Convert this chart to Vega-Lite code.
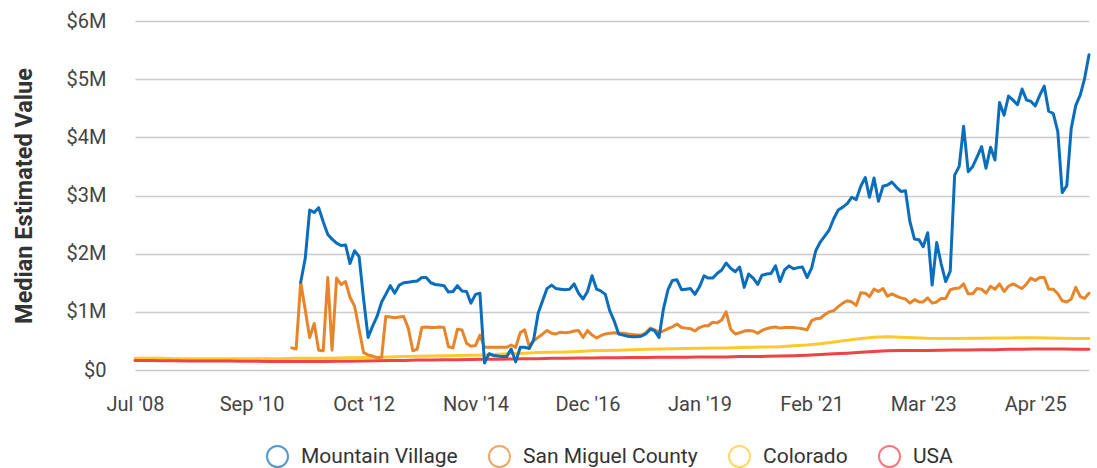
{
"$schema":"https://vega.github.io/schema/vega-lite/v6.json",
"width":954,"height":349,
"autosize":{"type":"none"},
"padding":{"left":135,"top":21,"right":8,"bottom":98},
"background":"white",
"config":{"view":{"stroke":null},"font":"Roboto"},
"data":{"values":[
{"d":"2008-07","CO":0.20,"US":0.165},
{"d":"2008-10","CO":0.20,"US":0.165},
{"d":"2009-01","CO":0.20,"US":0.16},
{"d":"2009-04","CO":0.195,"US":0.16},
{"d":"2009-07","CO":0.195,"US":0.155},
{"d":"2009-10","CO":0.195,"US":0.155},
{"d":"2010-01","CO":0.195,"US":0.155},
{"d":"2010-04","CO":0.195,"US":0.155},
{"d":"2010-07","CO":0.195,"US":0.15},
{"d":"2010-10","CO":0.195,"US":0.15},
{"d":"2011-01","CO":0.195,"US":0.145},
{"d":"2011-04","CO":0.195,"US":0.145},
{"d":"2011-06","SMC":0.38},
{"d":"2011-07","SMC":0.36,"CO":0.20,"US":0.145},
{"d":"2011-08","MV":1.51,"SMC":1.51},
{"d":"2011-09","MV":1.92,"SMC":1.03},
{"d":"2011-10","MV":2.75,"SMC":0.56,"CO":0.20,"US":0.145},
{"d":"2011-11","MV":2.71,"SMC":0.80},
{"d":"2011-12","MV":2.79,"SMC":0.34},
{"d":"2012-01","MV":2.55,"SMC":0.33,"CO":0.20,"US":0.145},
{"d":"2012-02","MV":2.33,"SMC":1.59},
{"d":"2012-03","MV":2.25,"SMC":0.34},
{"d":"2012-04","MV":2.18,"SMC":1.58,"CO":0.205,"US":0.15},
{"d":"2012-05","MV":2.14,"SMC":1.47},
{"d":"2012-06","MV":2.15,"SMC":1.52},
{"d":"2012-07","MV":1.83,"SMC":1.25,"CO":0.21,"US":0.15},
{"d":"2012-08","MV":2.05,"SMC":1.10},
{"d":"2012-09","MV":1.95,"SMC":0.70},
{"d":"2012-10","MV":1.23,"SMC":0.30,"CO":0.215,"US":0.155},
{"d":"2012-11","MV":0.56,"SMC":0.26},
{"d":"2012-12","MV":0.75,"SMC":0.24},
{"d":"2013-01","MV":0.92,"SMC":0.21,"CO":0.22,"US":0.16},
{"d":"2013-02","MV":1.17,"SMC":0.22},
{"d":"2013-03","MV":1.30,"SMC":0.92},
{"d":"2013-04","MV":1.45,"SMC":0.91,"CO":0.225,"US":0.165},
{"d":"2013-05","MV":1.32,"SMC":0.90},
{"d":"2013-06","MV":1.46,"SMC":0.91},
{"d":"2013-07","MV":1.50,"SMC":0.92,"CO":0.23,"US":0.165},
{"d":"2013-08","MV":1.51,"SMC":0.72},
{"d":"2013-09","MV":1.52,"SMC":0.33},
{"d":"2013-10","MV":1.53,"SMC":0.36,"CO":0.235,"US":0.17},
{"d":"2013-11","MV":1.59,"SMC":0.73},
{"d":"2013-12","MV":1.59,"SMC":0.74},
{"d":"2014-01","MV":1.50,"SMC":0.73,"CO":0.24,"US":0.17},
{"d":"2014-02","MV":1.47,"SMC":0.73},
{"d":"2014-03","MV":1.46,"SMC":0.74},
{"d":"2014-04","MV":1.45,"SMC":0.73,"CO":0.245,"US":0.175},
{"d":"2014-05","MV":1.34,"SMC":0.40},
{"d":"2014-06","MV":1.35,"SMC":0.38},
{"d":"2014-07","MV":1.45,"SMC":0.70,"CO":0.25,"US":0.175},
{"d":"2014-08","MV":1.36,"SMC":0.69},
{"d":"2014-09","MV":1.35,"SMC":0.46},
{"d":"2014-10","MV":1.15,"SMC":0.41,"CO":0.255,"US":0.18},
{"d":"2014-11","MV":1.30,"SMC":0.42},
{"d":"2014-12","MV":1.32,"SMC":0.60},
{"d":"2015-01","MV":0.12,"SMC":0.39,"CO":0.26,"US":0.185},
{"d":"2015-02","MV":0.28,"SMC":0.39},
{"d":"2015-03","MV":0.25,"SMC":0.39},
{"d":"2015-04","MV":0.24,"SMC":0.39,"CO":0.27,"US":0.185},
{"d":"2015-05","MV":0.23,"SMC":0.39},
{"d":"2015-06","MV":0.23,"SMC":0.39},
{"d":"2015-07","MV":0.36,"SMC":0.43,"CO":0.28,"US":0.19},
{"d":"2015-08","MV":0.14,"SMC":0.39},
{"d":"2015-09","MV":0.39,"SMC":0.64},
{"d":"2015-10","MV":0.39,"SMC":0.69,"CO":0.29,"US":0.195},
{"d":"2015-11","MV":0.37,"SMC":0.40},
{"d":"2015-12","MV":0.52,"SMC":0.50},
{"d":"2016-01","MV":0.98,"SMC":0.56,"CO":0.30,"US":0.195},
{"d":"2016-02","MV":1.20,"SMC":0.62},
{"d":"2016-03","MV":1.40,"SMC":0.68},
{"d":"2016-04","MV":1.46,"SMC":0.63,"CO":0.305,"US":0.20},
{"d":"2016-05","MV":1.40,"SMC":0.62},
{"d":"2016-06","MV":1.39,"SMC":0.65},
{"d":"2016-07","MV":1.38,"SMC":0.64,"CO":0.31,"US":0.20},
{"d":"2016-08","MV":1.39,"SMC":0.65},
{"d":"2016-09","MV":1.48,"SMC":0.67},
{"d":"2016-10","MV":1.32,"SMC":0.68,"CO":0.32,"US":0.205},
{"d":"2016-11","MV":1.22,"SMC":0.56},
{"d":"2016-12","MV":1.35,"SMC":0.68},
{"d":"2017-01","MV":1.62,"SMC":0.60,"CO":0.33,"US":0.205},
{"d":"2017-02","MV":1.39,"SMC":0.55},
{"d":"2017-03","MV":1.36,"SMC":0.59},
{"d":"2017-04","MV":1.30,"SMC":0.62,"CO":0.335,"US":0.21},
{"d":"2017-05","MV":1.02,"SMC":0.63},
{"d":"2017-06","MV":0.84,"SMC":0.64},
{"d":"2017-07","MV":0.62,"SMC":0.63,"CO":0.34,"US":0.21},
{"d":"2017-08","MV":0.60,"SMC":0.63},
{"d":"2017-09","MV":0.58,"SMC":0.62},
{"d":"2017-10","MV":0.57,"SMC":0.61,"CO":0.35,"US":0.215},
{"d":"2017-11","MV":0.57,"SMC":0.60},
{"d":"2017-12","MV":0.58,"SMC":0.60},
{"d":"2018-01","MV":0.62,"SMC":0.64,"CO":0.355,"US":0.215},
{"d":"2018-02","MV":0.70,"SMC":0.72},
{"d":"2018-03","MV":0.68,"SMC":0.69},
{"d":"2018-04","MV":0.56,"SMC":0.65,"CO":0.36,"US":0.22},
{"d":"2018-05","MV":1.05,"SMC":0.67},
{"d":"2018-06","MV":1.38,"SMC":0.71},
{"d":"2018-07","MV":1.54,"SMC":0.74,"CO":0.365,"US":0.22},
{"d":"2018-08","MV":1.55,"SMC":0.79},
{"d":"2018-09","MV":1.38,"SMC":0.73},
{"d":"2018-10","MV":1.39,"SMC":0.72,"CO":0.37,"US":0.22},
{"d":"2018-11","MV":1.40,"SMC":0.71},
{"d":"2018-12","MV":1.30,"SMC":0.67},
{"d":"2019-01","MV":1.43,"SMC":0.73,"CO":0.375,"US":0.225},
{"d":"2019-02","MV":1.62,"SMC":0.76},
{"d":"2019-03","MV":1.58,"SMC":0.76},
{"d":"2019-04","MV":1.58,"SMC":0.82,"CO":0.38,"US":0.225},
{"d":"2019-05","MV":1.66,"SMC":0.81},
{"d":"2019-06","MV":1.72,"SMC":0.86},
{"d":"2019-07","MV":1.84,"SMC":1.00,"CO":0.38,"US":0.225},
{"d":"2019-08","MV":1.75,"SMC":0.70},
{"d":"2019-09","MV":1.69,"SMC":0.62},
{"d":"2019-10","MV":1.77,"SMC":0.64,"CO":0.385,"US":0.23},
{"d":"2019-11","MV":1.42,"SMC":0.67},
{"d":"2019-12","MV":1.65,"SMC":0.68},
{"d":"2020-01","MV":1.58,"SMC":0.67,"CO":0.39,"US":0.23},
{"d":"2020-02","MV":1.47,"SMC":0.63},
{"d":"2020-03","MV":1.63,"SMC":0.68},
{"d":"2020-04","MV":1.65,"SMC":0.71,"CO":0.395,"US":0.235},
{"d":"2020-05","MV":1.66,"SMC":0.73},
{"d":"2020-06","MV":1.79,"SMC":0.74},
{"d":"2020-07","MV":1.52,"SMC":0.72,"CO":0.40,"US":0.24},
{"d":"2020-08","MV":1.72,"SMC":0.73},
{"d":"2020-09","MV":1.79,"SMC":0.73},
{"d":"2020-10","MV":1.74,"SMC":0.73,"CO":0.415,"US":0.245},
{"d":"2020-11","MV":1.76,"SMC":0.72},
{"d":"2020-12","MV":1.77,"SMC":0.71},
{"d":"2021-01","MV":1.59,"SMC":0.69,"CO":0.43,"US":0.255},
{"d":"2021-02","MV":1.75,"SMC":0.85},
{"d":"2021-03","MV":2.05,"SMC":0.88},
{"d":"2021-04","MV":2.20,"SMC":0.89,"CO":0.45,"US":0.265},
{"d":"2021-05","MV":2.30,"SMC":0.95},
{"d":"2021-06","MV":2.41,"SMC":1.00},
{"d":"2021-07","MV":2.60,"SMC":1.02,"CO":0.48,"US":0.28},
{"d":"2021-08","MV":2.75,"SMC":1.09},
{"d":"2021-09","MV":2.80,"SMC":1.15},
{"d":"2021-10","MV":2.86,"SMC":1.19,"CO":0.51,"US":0.29},
{"d":"2021-11","MV":2.97,"SMC":1.17},
{"d":"2021-12","MV":2.93,"SMC":1.11},
{"d":"2022-01","MV":3.16,"SMC":1.33,"CO":0.54,"US":0.305},
{"d":"2022-02","MV":3.31,"SMC":1.32},
{"d":"2022-03","MV":2.97,"SMC":1.26},
{"d":"2022-04","MV":3.30,"SMC":1.39,"CO":0.565,"US":0.32},
{"d":"2022-05","MV":2.90,"SMC":1.35},
{"d":"2022-06","MV":3.16,"SMC":1.40},
{"d":"2022-07","MV":3.18,"SMC":1.27,"CO":0.57,"US":0.33},
{"d":"2022-08","MV":3.23,"SMC":1.31},
{"d":"2022-09","MV":3.14,"SMC":1.27},
{"d":"2022-10","MV":3.07,"SMC":1.24,"CO":0.565,"US":0.335},
{"d":"2022-11","MV":3.08,"SMC":1.22},
{"d":"2022-12","MV":2.55,"SMC":1.15},
{"d":"2023-01","MV":2.25,"SMC":1.21,"CO":0.555,"US":0.335},
{"d":"2023-02","MV":2.24,"SMC":1.17},
{"d":"2023-03","MV":2.12,"SMC":1.17},
{"d":"2023-04","MV":2.36,"SMC":1.24,"CO":0.545,"US":0.335},
{"d":"2023-05","MV":1.46,"SMC":1.15},
{"d":"2023-06","MV":2.19,"SMC":1.17},
{"d":"2023-07","MV":1.83,"SMC":1.23,"CO":0.54,"US":0.34},
{"d":"2023-08","MV":1.52,"SMC":1.23},
{"d":"2023-09","MV":1.70,"SMC":1.38},
{"d":"2023-10","MV":3.35,"SMC":1.40,"CO":0.54,"US":0.345},
{"d":"2023-11","MV":3.50,"SMC":1.41},
{"d":"2023-12","MV":4.19,"SMC":1.48},
{"d":"2024-01","MV":3.41,"SMC":1.31,"CO":0.545,"US":0.345},
{"d":"2024-02","MV":3.50,"SMC":1.31},
{"d":"2024-03","MV":3.66,"SMC":1.40},
{"d":"2024-04","MV":3.84,"SMC":1.39,"CO":0.545,"US":0.35},
{"d":"2024-05","MV":3.47,"SMC":1.32},
{"d":"2024-06","MV":3.83,"SMC":1.44},
{"d":"2024-07","MV":3.61,"SMC":1.39,"CO":0.55,"US":0.35},
{"d":"2024-08","MV":4.60,"SMC":1.48},
{"d":"2024-09","MV":4.38,"SMC":1.35},
{"d":"2024-10","MV":4.71,"SMC":1.44,"CO":0.55,"US":0.355},
{"d":"2024-11","MV":4.64,"SMC":1.48},
{"d":"2024-12","MV":4.56,"SMC":1.44},
{"d":"2025-01","MV":4.83,"SMC":1.40,"CO":0.555,"US":0.355},
{"d":"2025-02","MV":4.64,"SMC":1.48},
{"d":"2025-03","MV":4.62,"SMC":1.58},
{"d":"2025-04","MV":4.54,"SMC":1.54,"CO":0.555,"US":0.36},
{"d":"2025-05","MV":4.72,"SMC":1.59},
{"d":"2025-06","MV":4.88,"SMC":1.59},
{"d":"2025-07","MV":4.45,"SMC":1.39,"CO":0.55,"US":0.36},
{"d":"2025-08","MV":4.41,"SMC":1.39},
{"d":"2025-09","MV":4.10,"SMC":1.31},
{"d":"2025-10","MV":3.05,"SMC":1.19,"CO":0.545,"US":0.36},
{"d":"2025-11","MV":3.17,"SMC":1.17},
{"d":"2025-12","MV":4.15,"SMC":1.22},
{"d":"2026-01","MV":4.55,"SMC":1.42,"CO":0.54,"US":0.355},
{"d":"2026-02","MV":4.73,"SMC":1.26},
{"d":"2026-03","MV":5.00,"SMC":1.23},
{"d":"2026-04","MV":5.42,"SMC":1.32,"CO":0.54,"US":0.355}
]},
"transform":[
{"fold":["MV","SMC","CO","US"],"as":["s","v"]},
{"filter":"isValid(datum.v)"}
],
"mark":{"type":"line","strokeWidth":3,"strokeJoin":"round","strokeCap":"round"},
"encoding":{
"x":{"field":"d","type":"temporal",
"scale":{"type":"utc","domain":[{"year":2008,"month":7,"date":1,"utc":true},{"year":2026,"month":4,"date":1,"utc":true}]},
"axis":{"title":null,"grid":false,"domain":false,"ticks":false,"tickSize":0,"labelPadding":24,"labelFontSize":20,"labelColor":"#444","labelFont":"Roboto","labelExpr":"utcFormat(datum.value, \"%b '%y\")","labelOverlap":false,"labelFlush":false,
"values":[{"year":2008,"month":7,"date":1,"utc":true},{"year":2010,"month":9,"date":1,"utc":true},{"year":2012,"month":10,"date":1,"utc":true},{"year":2014,"month":11,"date":1,"utc":true},{"year":2016,"month":12,"date":1,"utc":true},{"year":2019,"month":1,"date":1,"utc":true},{"year":2021,"month":2,"date":1,"utc":true},{"year":2023,"month":3,"date":1,"utc":true},{"year":2025,"month":4,"date":1,"utc":true}]}},
"y":{"field":"v","type":"quantitative","scale":{"domain":[0,6],"nice":false},
"axis":{"title":"Median Estimated Value","values":[0,1,2,3,4,5,6],"labelExpr":"datum.value == 0 ? '$0' : '$' + datum.value + 'M'","domain":false,"ticks":false,"tickSize":0,"labelPadding":29,"labelFontSize":20,"labelColor":"#444","labelFont":"Roboto","gridColor":"#cccccc","gridWidth":1.5,"titleFont":"Roboto","titleFontSize":23.5,"titleFontWeight":"bold","titleColor":"#333","titleX":-104,"titleBaseline":"alphabetic"}},
"color":{"field":"s","type":"nominal",
"scale":{"domain":["MV","SMC","CO","US"],"range":["#0a6ebd","#e8852a","#ffc830","#ee4444"]},
"legend":{"orient":"none","legendX":131,"legendY":424,"direction":"horizontal","title":null,"padding":0,"symbolType":"circle","symbolSize":441,"symbolStrokeWidth":2,"symbolFillColor":"transparent","symbolOpacity":0.7,"labelFontSize":21,"labelFont":"Roboto","labelColor":"#333","labelOffset":12,"columnPadding":27,"labelLimit":400,
"labelExpr":"datum.label == 'MV' ? 'Mountain Village' : datum.label == 'SMC' ? 'San Miguel County' : datum.label == 'CO' ? 'Colorado' : 'USA'"}}
}
}
